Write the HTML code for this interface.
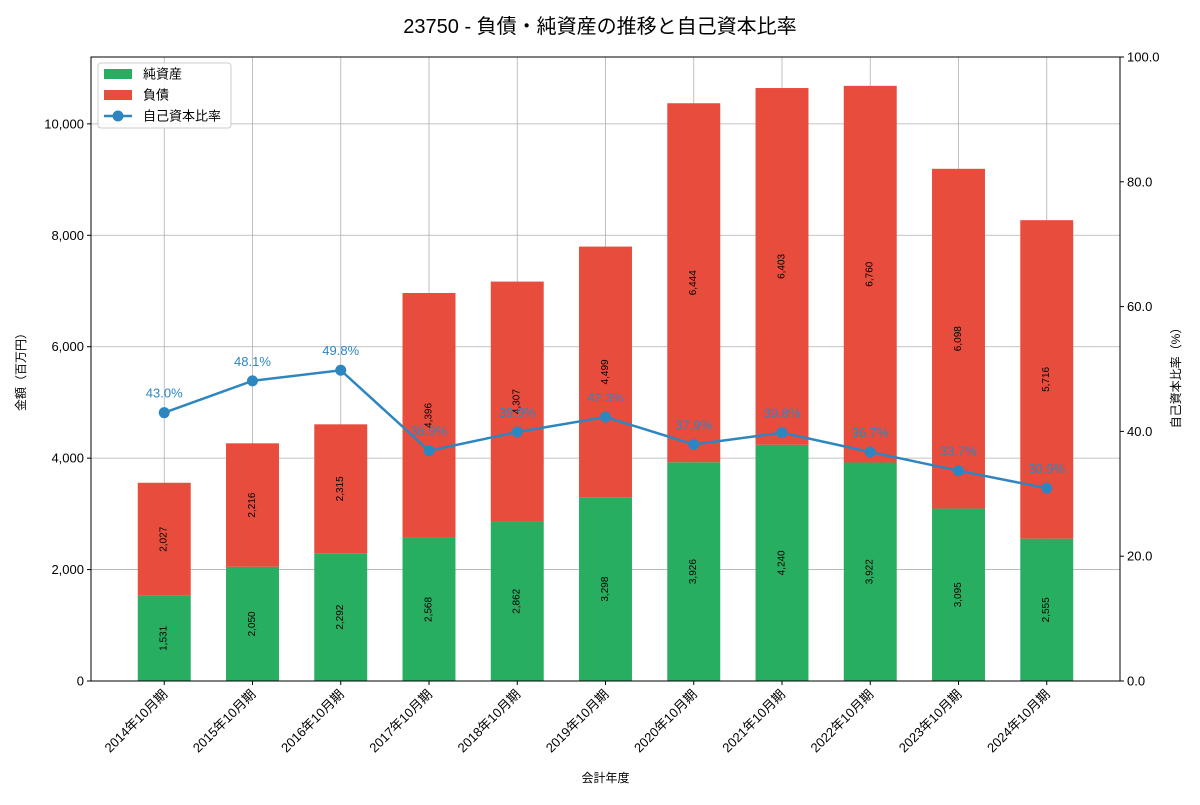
<!DOCTYPE html>
<html><head><meta charset="utf-8"><style>
body{margin:0;background:#fff;font-family:"Liberation Sans","Noto Sans CJK JP",sans-serif}
svg text{font-family:"Liberation Sans","Noto Sans CJK JP",sans-serif}
</style></head><body>
<svg id="chart" width="1200" height="800" xmlns="http://www.w3.org/2000/svg"></svg>
<script>
const categories=["2014年10月期","2015年10月期","2016年10月期","2017年10月期","2018年10月期","2019年10月期","2020年10月期","2021年10月期","2022年10月期","2023年10月期","2024年10月期"];
const netAssets=[1531,2050,2292,2568,2862,3298,3926,4240,3922,3095,2555];
const liabilities=[2027,2216,2315,4396,4307,4499,6444,6403,6760,6098,5716];
const ratio=[43.0,48.1,49.8,36.9,39.9,42.3,37.9,39.8,36.7,33.7,30.9];
const leftTicks=[0,2000,4000,6000,8000,10000];
const rightTicks=[0,20,40,60,80,100];

const L=91,R=1120,T=57,B=681;
const NS="http://www.w3.org/2000/svg";
const svg=document.getElementById('chart');
function el(tag,attrs,parent){const e=document.createElementNS(NS,tag);for(const k in attrs)e.setAttribute(k,attrs[k]);(parent||svg).appendChild(e);return e;}
const n=categories.length;
const xMin=-0.83,xMax=n-1+0.83;
const x=i=>L+(i-xMin)/(xMax-xMin)*(R-L);
const yL=v=>B-v/11200*(B-T);
const yR=v=>B-v/100*(B-T);
const bw=0.6*(x(1)-x(0));

let t=el('text',{x:600,y:33,'text-anchor':'middle','font-size':20,fill:'#000'});

t.textContent='23750 - 負債・純資産の推移と自己資本比率';

// grid
leftTicks.forEach(v=>{const g=el('line',{x1:L,x2:R,y1:yL(v),y2:yL(v),stroke:'#b0b0b0','stroke-width':0.8});
});
categories.forEach((c,i)=>{const g=el('line',{x1:x(i),x2:x(i),y1:T,y2:B,stroke:'#b0b0b0','stroke-width':0.8});
});

// bars
categories.forEach((c,i)=>{
 const cx=x(i);
 const b1=el('rect',{x:cx-bw/2,y:yL(netAssets[i]),width:bw,height:yL(0)-yL(netAssets[i]),fill:'#27ae60'});
 
 const top=netAssets[i]+liabilities[i];
 const b2=el('rect',{x:cx-bw/2,y:yL(top),width:bw,height:yL(netAssets[i])-yL(top),fill:'#e74c3c'});
 
 [[netAssets[i]/2,netAssets[i]],[netAssets[i]+liabilities[i]/2,liabilities[i]]].forEach(([m,v])=>{
  const ly=yL(m);
  const tx=el('text',{x:cx,y:ly,'font-size':10,'text-anchor':'middle','dominant-baseline':'central',fill:'#000',transform:`rotate(-90 ${cx} ${ly})`});
  
  tx.textContent=v.toLocaleString('en-US');
 });
});

// line
const pts=ratio.map((r,i)=>x(i)+','+yR(r)).join(' ');
const pl=el('polyline',{points:pts,fill:'none',stroke:'#2e86c1','stroke-width':2.5});

ratio.forEach((r,i)=>{
 const c=el('circle',{cx:x(i),cy:yR(r),r:5.5,fill:'#2e86c1'});
 
 const tx=el('text',{x:x(i),y:yR(r)-15,'font-size':13,'text-anchor':'middle',fill:'#2e86c1'});
 
 tx.textContent=r.toFixed(1)+'%';
});

// axes frame
const fr=el('rect',{x:L,y:T,width:R-L,height:B-T,fill:'none',stroke:'#000','stroke-width':1});


leftTicks.forEach(v=>{
 el('line',{x1:L-4,x2:L,y1:yL(v),y2:yL(v),stroke:'#000'});
 const tx=el('text',{x:L-7,y:yL(v)+4.5,'font-size':13,'text-anchor':'end',fill:'#000'});
 
 tx.textContent=v.toLocaleString('en-US');
});
rightTicks.forEach(v=>{
 el('line',{x1:R,x2:R+4,y1:yR(v),y2:yR(v),stroke:'#000'});
 const tx=el('text',{x:R+7,y:yR(v)+4.5,'font-size':13,'text-anchor':'start',fill:'#000'});
 
 tx.textContent=v.toFixed(1);
});
categories.forEach((c,i)=>{
 el('line',{x1:x(i),x2:x(i),y1:B,y2:B+4,stroke:'#000'});
 const tx=el('text',{x:x(i)+4,y:B+14,'font-size':13,'text-anchor':'end',fill:'#000',transform:`rotate(-45 ${x(i)+4} ${B+14})`});
 
 tx.textContent=c;
});

t=el('text',{x:(L+R)/2,y:782,'font-size':12,'text-anchor':'middle',fill:'#000'});
t.textContent='会計年度';
t=el('text',{x:25,y:369,'font-size':12,'text-anchor':'middle',fill:'#000',transform:'rotate(-90 25 369)'});
t.textContent='金額（百万円）';
t=el('text',{x:1180,y:375,'font-size':12,'text-anchor':'middle',fill:'#000',transform:'rotate(-90 1180 375)'});
t.textContent='自己資本比率（%）';

// legend
const lg=el('g',{});
el('rect',{x:98,y:63,width:133,height:65,rx:3,fill:'#fff','fill-opacity':0.85,stroke:'#ccc'},lg);
const items=[['純資産','#27ae60','bar'],['負債','#e74c3c','bar'],['自己資本比率','#2e86c1','line']];
items.forEach((it,k)=>{
 const yy=74+k*21;
 const g=el('g',{},lg);
 if(it[2]==='bar')el('rect',{x:104,y:yy-5,width:28,height:10,fill:it[1]},g);
 else{el('line',{x1:104,x2:132,y1:yy,y2:yy,stroke:it[1],'stroke-width':2.5},g);el('circle',{cx:118,cy:yy,r:5.5,fill:it[1]},g);}
 const tx=el('text',{x:143,y:yy+4.5,'font-size':13,fill:'#000'},g);tx.textContent=it[0];
});
</script>
</body></html>
